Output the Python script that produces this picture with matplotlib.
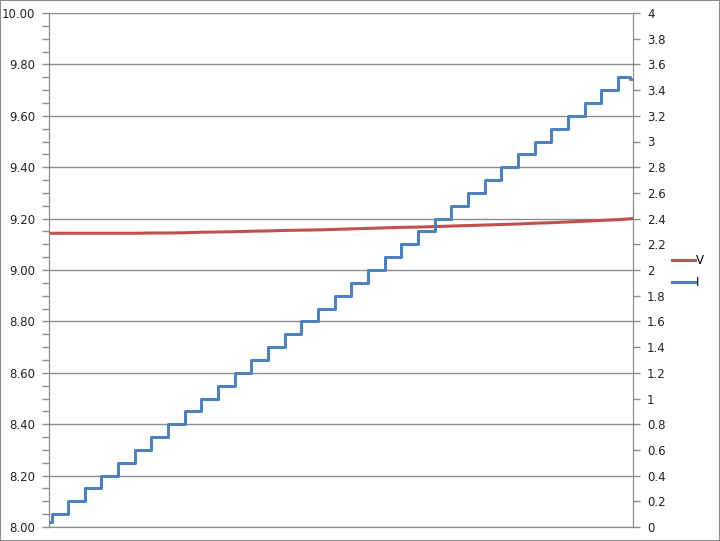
import numpy as np
import matplotlib
matplotlib.use("Agg")
from matplotlib import pyplot as plt
from matplotlib.ticker import MultipleLocator, FormatStrFormatter

# step start times (arbitrary time units) and current level held from each
t_steps = [0.0, 0.18, 1.14, 2.14, 3.14, 4.14, 5.14, 6.14, 7.14, 8.14, 9.14,
           10.14, 11.14, 12.14, 13.14, 14.14, 15.14, 16.14, 17.14, 18.14, 19.14,
           20.14, 21.14, 22.14, 23.14, 24.14, 25.14, 26.14, 27.14, 28.14, 29.14,
           30.14, 31.14, 32.14, 33.14, 34.14, 34.85, 35.03]
i_levels = [0.04, 0.1, 0.2, 0.3, 0.4, 0.5, 0.6, 0.7, 0.8, 0.9, 1.0,
            1.1, 1.2, 1.3, 1.4, 1.5, 1.6, 1.7, 1.8, 1.9, 2.0,
            2.1, 2.2, 2.3, 2.4, 2.5, 2.6, 2.7, 2.8, 2.9, 3.0,
            3.1, 3.2, 3.3, 3.4, 3.5, 3.49, 3.49]
v_levels = [9.143, 9.143, 9.143, 9.143, 9.143, 9.143, 9.143, 9.144, 9.144, 9.145, 9.147,
            9.148, 9.149, 9.151, 9.152, 9.154, 9.155, 9.156, 9.158, 9.160, 9.162,
            9.164, 9.166, 9.167, 9.169, 9.171, 9.173, 9.175, 9.177, 9.179, 9.182,
            9.184, 9.187, 9.190, 9.193, 9.196, 9.199, 9.201]

red = "#C0504D"
blue = "#4F81BD"

fig = plt.figure(figsize=(7.2, 5.41), dpi=100)
ax = fig.add_axes([49/720, 1 - 527/541, (633 - 49)/720, (527 - 13)/541])
ax2 = ax.twinx()

lv, = ax.plot(t_steps, v_levels, color=red, lw=2.2, label="V")
li, = ax2.plot(t_steps, i_levels, color=blue, lw=2.2, drawstyle="steps-post", label="I")

ax.set_xlim(t_steps[0], t_steps[-1])
ax.set_ylim(8.0, 10.0)
ax2.set_ylim(0, 4)

ax.yaxis.set_major_locator(MultipleLocator(0.2))
ax.yaxis.set_minor_locator(MultipleLocator(0.05))
ax.yaxis.set_major_formatter(FormatStrFormatter("%.2f"))
ax2.yaxis.set_major_locator(MultipleLocator(0.2))
ax2.yaxis.set_major_formatter(FormatStrFormatter("%g"))
ax.set_xticks([])
ax.grid(axis="y", color="#8c8c8c", lw=1)
ax.set_axisbelow(True)

for a in (ax, ax2):
    for s in a.spines.values():
        s.set_color("#8c8c8c")
    a.spines["top"].set_visible(False)
    a.tick_params(colors="#8c8c8c", labelcolor="#222222", labelsize=8.5, length=5, width=1)
    a.tick_params(which="minor", colors="#8c8c8c", length=5, width=1)
ax.tick_params(axis="y", pad=5)
ax2.tick_params(axis="y", pad=5)

fig.legend(handles=[lv, li], loc="center left", bbox_to_anchor=(0.927, 0.498),
           frameon=False, fontsize=8.5, handlelength=1.9, handletextpad=0.15,
           labelspacing=0.8, borderaxespad=0)

fig.patches.append(plt.Rectangle((0, 0), 1, 1, transform=fig.transFigure,
                                 fill=False, edgecolor="#8c8c8c", lw=1.5))

plt.savefig("out.png", dpi=100)
